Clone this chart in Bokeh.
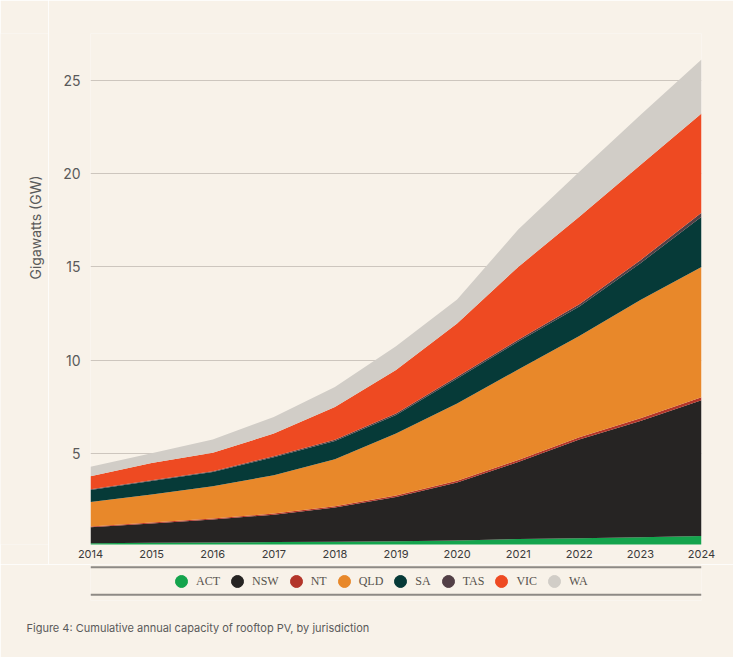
from math import pi
from bokeh.plotting import figure
from bokeh.models import (ColumnDataSource, Range1d, FixedTicker, Legend, LegendItem,
                          Span, Title, Label)
from bokeh.layouts import column, row
from bokeh.embed import file_html
from bokeh.resources import INLINE

# ---------------- data ----------------
years = [2014, 2015, 2016, 2017, 2018, 2019, 2020, 2021, 2022, 2023, 2024]
jurisdictions = ["ACT", "NSW", "NT", "QLD", "SA", "TAS", "VIC", "WA"]

ACT = [0.20, 0.22, 0.24, 0.26, 0.28, 0.31, 0.35, 0.42, 0.47, 0.52, 0.58]
NSW = [0.86, 1.04, 1.23, 1.47, 1.83, 2.37, 3.10, 4.13, 5.29, 6.23, 7.28]
NT = [0.04, 0.05, 0.05, 0.06, 0.07, 0.08, 0.09, 0.11, 0.12, 0.14, 0.16]
QLD = [1.31, 1.50, 1.73, 2.05, 2.51, 3.31, 4.14, 4.84, 5.42, 6.33, 6.98]
SA = [0.64, 0.72, 0.76, 0.96, 0.98, 1.00, 1.34, 1.50, 1.58, 1.98, 2.68]
TAS = [0.04, 0.04, 0.05, 0.06, 0.07, 0.08, 0.09, 0.10, 0.12, 0.16, 0.22]
VIC = [0.70, 0.93, 0.98, 1.21, 1.76, 2.32, 2.86, 3.90, 4.68, 5.09, 5.32]
WA = [0.50, 0.52, 0.71, 0.89, 1.07, 1.28, 1.28, 2.00, 2.41, 2.68, 2.89]

colors = ["#14a44d", "#262423", "#b3352a", "#e8882a", "#063a38", "#523f46", "#ee4a22", "#d1cdc7"]
y_ticks = [5, 10, 15, 20, 25]

y_label = "Gigawatts (GW)"
caption = "Figure 4: Cumulative annual capacity of rooftop PV, by jurisdiction"

# ---------------- styling ----------------
BG = "#f8f2e9"
SANS = "Inter"
SERIF = "Liberation Serif"
TEXT = "#5a5a5a"

source = ColumnDataSource(dict(year=years, ACT=ACT, NSW=NSW, NT=NT, QLD=QLD,
                               SA=SA, TAS=TAS, VIC=VIC, WA=WA))

# narrow strip holding the y-axis title
lab = figure(width=48, height=564, x_range=Range1d(0, 48), y_range=Range1d(0, 564),
             x_axis_type=None, y_axis_type=None,
             output_backend="svg", toolbar_location=None,
             min_border_left=0, min_border_right=0, min_border_top=0, min_border_bottom=0,
             background_fill_color=BG, border_fill_color=BG, outline_line_color=None)
lab.xgrid.grid_line_color = None
lab.ygrid.grid_line_color = None
lab.add_layout(Label(x=35, y=317, x_units="screen", y_units="screen", text=y_label,
                     angle=pi / 2, text_align="center", text_baseline="middle",
                     text_font=SANS, text_font_size="14px", text_color=TEXT))

# main chart
p = figure(width=685, height=564,
           x_range=Range1d(2014, 2024), y_range=Range1d(0.13, 27.5),
           output_backend="svg", toolbar_location=None,
           min_border_left=42, min_border_right=32, min_border_top=33, min_border_bottom=20,
           background_fill_color=BG, border_fill_color=BG, outline_line_color=None)

p.varea_stack(stackers=jurisdictions, x="year", color=colors, source=source)

# x axis
p.xaxis.ticker = FixedTicker(ticks=years)
p.xaxis.axis_line_color = None
p.xaxis.major_tick_line_color = None
p.xaxis.major_tick_out = 0
p.xaxis.major_tick_in = 0
p.xaxis.minor_tick_line_color = None
p.xaxis.major_label_standoff = 5
p.xaxis.major_label_text_font = SANS
p.xaxis.major_label_text_font_size = "11px"
p.xaxis.major_label_text_color = "#3a3a3a"

# y axis
p.yaxis.ticker = FixedTicker(ticks=y_ticks)
p.yaxis.axis_line_color = None
p.yaxis.major_tick_line_color = None
p.yaxis.major_tick_out = 0
p.yaxis.major_tick_in = 0
p.yaxis.minor_tick_line_color = None
p.yaxis.major_label_standoff = 10
p.yaxis.major_label_text_font = SANS
p.yaxis.major_label_text_font_size = "14px"
p.yaxis.major_label_text_color = TEXT

p.xgrid.grid_line_color = None
p.ygrid.grid_line_color = "#cdc6be"
p.ygrid.grid_line_width = 1

# ---------------- legend strip + caption ----------------
p2 = figure(width=733, height=93, x_range=Range1d(0, 1), y_range=Range1d(0, 36),
            x_axis_type=None, y_axis_type=None,
            output_backend="svg", toolbar_location=None,
            min_border_left=90, min_border_right=32, min_border_top=0, min_border_bottom=57,
            background_fill_color=BG, border_fill_color=BG, outline_line_color=None)
p2.xgrid.grid_line_color = None
p2.ygrid.grid_line_color = None

items = []
for name, c in zip(jurisdictions, colors):
    r = p2.scatter(x=[0.5], y=[18], marker="circle", fill_color=c, line_color=c, visible=False)
    items.append(LegendItem(label=name, renderers=[r]))

legend = Legend(items=items, orientation="horizontal", location=(76, 4),
                glyph_width=30, glyph_height=30, label_standoff=0, label_width=5,
                spacing=2, padding=0, margin=0,
                background_fill_alpha=0, border_line_alpha=0,
                label_text_font=SERIF, label_text_font_size="12px",
                label_text_color="#57524d")
p2.add_layout(legend)

p2.add_layout(Span(location=33.3, dimension="width", line_color="#8e8a85", line_width=2))
p2.add_layout(Span(location=5.7, dimension="width", line_color="#8e8a85", line_width=2))

p2.add_layout(Title(text=caption, align="left", offset=-64, standoff=36,
                    text_font=SANS, text_font_size="11px", text_font_style="normal",
                    text_color=TEXT), "below")

layout = column(row(lab, p, spacing=0), p2, spacing=0)

open("out.html", "w").write(file_html(layout, INLINE))
